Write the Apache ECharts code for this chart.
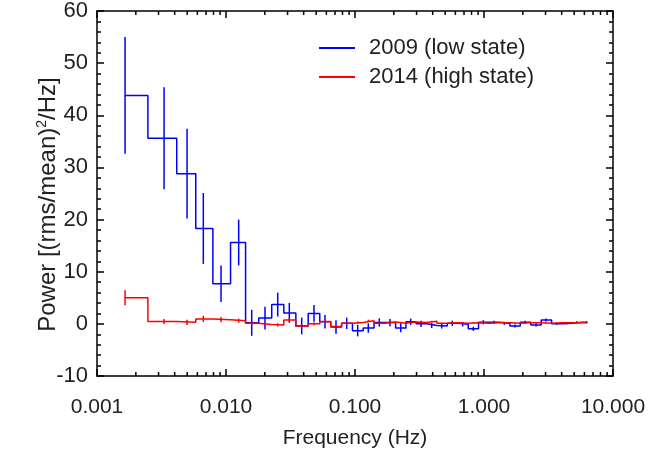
<!DOCTYPE html>
<html>
<head>
<meta charset="utf-8">
<script src="https://cdn.jsdelivr.net/npm/echarts@6/dist/echarts.min.js"></script>
</head>
<body style="margin:0;background:#fff">
<div id="chart" style="width:668px;height:455px;"></div>
<script>
// bin centre frequencies (Hz), shared by both observations
var freq = [0.00165, 0.00331, 0.00499, 0.00667, 0.00915, 0.01254, 0.01582, 0.02006, 0.02517, 0.03096,
            0.03863, 0.04811, 0.05853, 0.07123, 0.08626, 0.1049, 0.1268, 0.1543, 0.1867, 0.2261,
            0.2703, 0.3249, 0.3932, 0.4699, 0.5679, 0.6837, 0.8263, 0.9876, 1.195, 1.437,
            1.739, 2.079, 2.530, 3.024, 3.661, 4.376, 5.231, 6.253];
// 2009 low state
var lowPow = [43.8, 35.6, 28.8, 18.3, 7.7, 15.6, 0.2, 1.1, 3.7, 2.1,
              -0.4, 2.0, 0.4, -0.6, 0.1, -1.3, -0.8, 0.25, 0.25, -0.8,
              0.4, 0.0, -0.3, -0.4, 0.1, -0.1, -0.95, 0.3, 0.3, 0.1,
              -0.4, 0.3, -0.2, 0.75, 0.0, 0.1, 0.3, 0.3];
var lowErr = [11.2, 9.8, 8.6, 6.8, 3.5, 4.4, 2.5, 2.2, 2.3, 1.9,
              1.6, 1.6, 1.3, 1.3, 1.1, 1.1, 0.9, 0.8, 0.7, 0.8,
              0.6, 0.6, 0.5, 0.5, 0.5, 0.4, 0.4, 0.4, 0.3, 0.3,
              0.3, 0.3, 0.3, 0.3, 0.2, 0.2, 0.2, 0.2];
// 2014 high state
var highPow = [5.0, 0.45, 0.3, 0.95, 0.8, 0.6, 0.1, -0.1, -0.2, 0.75,
               -0.4, 0.0, 0.45, -0.5, 0.1, 0.25, 0.6, 0.1, 0.35, 0.1,
               0.35, 0.25, 0.5, 0.1, 0.2, 0.1, 0.2, 0.1, 0.2, 0.2,
               0.1, 0.2, 0.2, 0.1, 0.2, 0.2, 0.2, 0.2];
var highErr = [1.45, 0.5, 0.5, 0.6, 0.5, 0.4, 0.35, 0.3, 0.3, 0.3,
               0.3, 0.25, 0.25, 0.25, 0.2, 0.2, 0.2, 0.2, 0.15, 0.15,
               0.15, 0.15, 0.1, 0.1, 0.1, 0.1, 0.1, 0.1, 0.1, 0.1,
               0.1, 0.1, 0.1, 0.1, 0.1, 0.1, 0.1, 0.1];
var names = ['2009 (low state)', '2014 (high state)'];
var colors = ['#0000ff', '#ff0000'];

// log-axis minor ticks 2..9 in each decade
var minorX = [];
for (var e = -3; e < 1; e++) {
  for (var m = 2; m < 10; m++) minorX.push([m * Math.pow(10, e), 0]);
}

// histogram style: steps change half way between bins
function steps(f, p) {
  var out = [[f[0], p[0]]];
  for (var i = 1; i < f.length; i++) {
    var mid = (f[i - 1] + f[i]) / 2;
    out.push([mid, p[i - 1]], [mid, p[i]]);
  }
  out.push([f[f.length - 1], p[p.length - 1]]);
  return out;
}
function bars(f, p, err) {
  return f.map(function (x, i) { return [x, p[i] - err[i], p[i] + err[i]]; });
}
function errItem(params, api) {
  var a = api.coord([api.value(0), api.value(1)]);
  var b = api.coord([api.value(0), api.value(2)]);
  return {type: 'line', shape: {x1: a[0], y1: a[1], x2: b[0], y2: b[1]},
          style: {stroke: api.visual('color'), lineWidth: 1.5}};
}
function minorItem(params, api) {
  var v = api.value(0);
  var lo = api.coord([v, -10]), hi = api.coord([v, 60]);
  var st = {stroke: '#000', lineWidth: 1.5};
  return {type: 'group', children: [
    {type: 'line', shape: {x1: lo[0], y1: lo[1], x2: lo[0], y2: lo[1] - 4}, style: st},
    {type: 'line', shape: {x1: hi[0], y1: hi[1], x2: hi[0], y2: hi[1] + 4}, style: st}
  ]};
}

var font = 'Liberation Sans';
var axisLine = {show: true, onZero: false, lineStyle: {color: '#000', width: 1.5}};
var tick = {show: true, inside: true, length: 7, lineStyle: {color: '#000', width: 1.5}};

var chart = echarts.init(document.getElementById('chart'));
chart.setOption({
  animation: false,
  grid: {left: 97, right: 55, top: 10, bottom: 79},
  legend: {
    data: names, orient: 'vertical', left: 314, top: 32, itemGap: 7,
    icon: 'rect', itemWidth: 36, itemHeight: 2,
    textStyle: {fontFamily: font, fontSize: 22, color: '#222', padding: [0, 0, 0, 9]}
  },
  xAxis: [{
    type: 'log', logBase: 10, min: 0.001, max: 10, position: 'bottom',
    axisLine: axisLine, axisTick: tick, splitLine: {show: false},
    axisLabel: {fontFamily: font, fontSize: 21, color: '#222', margin: 21,
                formatter: function (v) { return v.toFixed(3); }},
    name: 'Frequency (Hz)', nameLocation: 'middle', nameGap: 52,
    nameTextStyle: {fontFamily: font, fontSize: 21, color: '#222'}
  }, {
    type: 'log', logBase: 10, min: 0.001, max: 10, position: 'top',
    axisLine: axisLine, axisTick: tick, splitLine: {show: false}, axisLabel: {show: false}
  }],
  yAxis: [{
    type: 'value', min: -10, max: 60, interval: 10, position: 'left',
    axisLine: axisLine, axisTick: tick, splitLine: {show: false},
    minorTick: {show: true, splitNumber: 5, length: 4, lineStyle: {color: '#000', width: 1.5}},
    axisLabel: {fontFamily: font, fontSize: 22, color: '#222', margin: 9},
    name: 'Power [(rms/mean){sup|2}/Hz]', nameLocation: 'middle', nameGap: 36, nameRotate: 90,
    nameMoveOverlap: false,
    nameTextStyle: {fontFamily: font, fontSize: 24, color: '#222', lineHeight: 26, padding: [0, 22, 0, 0],
      rich: {sup: {fontFamily: font, fontSize: 14, color: '#222', verticalAlign: 'top', lineHeight: 26}}}
  }, {
    type: 'value', min: -10, max: 60, interval: 10, position: 'right',
    axisLine: axisLine, axisTick: tick, splitLine: {show: false},
    minorTick: {show: true, splitNumber: 5, length: 4, lineStyle: {color: '#000', width: 1.5}},
    axisLabel: {show: false}
  }],
  series: [
    {name: names[0], type: 'line', data: steps(freq, lowPow), showSymbol: false,
     color: colors[0], lineStyle: {width: 1.5}},
    {name: 'err0', type: 'custom', data: bars(freq, lowPow, lowErr), renderItem: errItem,
     itemStyle: {color: colors[0]}, silent: true},
    {name: names[1], type: 'line', data: steps(freq, highPow), showSymbol: false,
     color: colors[1], lineStyle: {width: 1.5}},
    {name: 'err1', type: 'custom', data: bars(freq, highPow, highErr), renderItem: errItem,
     itemStyle: {color: colors[1]}, silent: true},
    {name: 'minor', type: 'custom', data: minorX, renderItem: minorItem, silent: true, z: 5}
  ]
});
</script>
</body>
</html>
